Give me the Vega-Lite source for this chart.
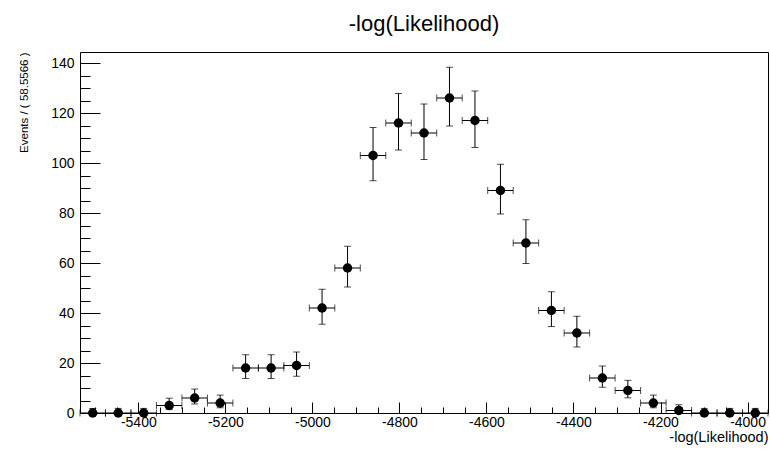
{
  "$schema": "https://vega.github.io/schema/vega-lite/v6.json",
  "width": 688,
  "height": 361,
  "autosize": "none",
  "padding": {"left": 80, "top": 52, "right": 2, "bottom": 37},
  "background": "white",
  "title": {
    "text": "-log(Likelihood)",
    "font": "Liberation Sans",
    "fontSize": 22,
    "fontWeight": "normal",
    "color": "black",
    "anchor": "middle",
    "baseline": "bottom",
    "offset": 17,
    "dy": 23
  },
  "config": {
    "view": {"stroke": "black", "strokeWidth": 1},
    "axis": {
      "labelFont": "Liberation Sans",
      "titleFont": "Liberation Sans",
      "labelFontSize": 14,
      "titleFontWeight": "normal",
      "labelColor": "black",
      "titleColor": "black",
      "tickColor": "black",
      "tickWidth": 1,
      "domain": false,
      "grid": false
    }
  },
  "data": {
    "values": [
      {"x": -5504.72, "lo": -5534.0, "hi": -5475.44, "n": 0, "elo": 0, "ehi": 1.84},
      {"x": -5446.17, "lo": -5475.44, "hi": -5416.89, "n": 0, "elo": 0, "ehi": 1.84},
      {"x": -5387.61, "lo": -5416.89, "hi": -5358.33, "n": 0, "elo": 0, "ehi": 1.84},
      {"x": -5329.05, "lo": -5358.33, "hi": -5299.77, "n": 3, "elo": 1.37, "ehi": 5.92},
      {"x": -5270.5, "lo": -5299.77, "hi": -5241.22, "n": 6, "elo": 3.62, "ehi": 9.58},
      {"x": -5211.94, "lo": -5241.22, "hi": -5182.66, "n": 4, "elo": 2.09, "ehi": 7.16},
      {"x": -5153.38, "lo": -5182.66, "hi": -5124.1, "n": 18, "elo": 13.8, "ehi": 23.3},
      {"x": -5094.83, "lo": -5124.1, "hi": -5065.55, "n": 18, "elo": 13.8, "ehi": 23.3},
      {"x": -5036.27, "lo": -5065.55, "hi": -5006.99, "n": 19, "elo": 14.7, "ehi": 24.4},
      {"x": -4977.71, "lo": -5006.99, "hi": -4948.43, "n": 42, "elo": 35.5, "ehi": 49.5},
      {"x": -4919.16, "lo": -4948.43, "hi": -4889.88, "n": 58, "elo": 50.4, "ehi": 66.7},
      {"x": -4860.6, "lo": -4889.88, "hi": -4831.32, "n": 103, "elo": 92.9, "ehi": 114.2},
      {"x": -4802.04, "lo": -4831.32, "hi": -4772.76, "n": 116, "elo": 105.2, "ehi": 127.8},
      {"x": -4743.49, "lo": -4772.76, "hi": -4714.21, "n": 112, "elo": 101.4, "ehi": 123.6},
      {"x": -4684.93, "lo": -4714.21, "hi": -4655.65, "n": 126, "elo": 114.8, "ehi": 138.3},
      {"x": -4626.37, "lo": -4655.65, "hi": -4597.09, "n": 117, "elo": 106.2, "ehi": 128.8},
      {"x": -4567.82, "lo": -4597.09, "hi": -4538.54, "n": 89, "elo": 79.6, "ehi": 99.5},
      {"x": -4509.26, "lo": -4538.54, "hi": -4479.98, "n": 68, "elo": 59.8, "ehi": 77.3},
      {"x": -4450.7, "lo": -4479.98, "hi": -4421.43, "n": 41, "elo": 34.6, "ehi": 48.5},
      {"x": -4392.15, "lo": -4421.43, "hi": -4362.87, "n": 32, "elo": 26.4, "ehi": 38.7},
      {"x": -4333.59, "lo": -4362.87, "hi": -4304.31, "n": 14, "elo": 10.3, "ehi": 18.8},
      {"x": -4275.03, "lo": -4304.31, "hi": -4245.76, "n": 9, "elo": 6.06, "ehi": 13.06},
      {"x": -4216.48, "lo": -4245.76, "hi": -4187.2, "n": 4, "elo": 2.09, "ehi": 7.16},
      {"x": -4157.92, "lo": -4187.2, "hi": -4128.64, "n": 1, "elo": 0.17, "ehi": 3.3},
      {"x": -4099.36, "lo": -4128.64, "hi": -4070.09, "n": 0, "elo": 0, "ehi": 1.84},
      {"x": -4040.81, "lo": -4070.09, "hi": -4011.53, "n": 0, "elo": 0, "ehi": 1.84},
      {"x": -3982.25, "lo": -4011.53, "hi": -3952.97, "n": 0, "elo": 0, "ehi": 1.84}
    ]
  },
  "resolve": {"axis": {"x": "independent", "y": "independent"}},
  "layer": [
    {
      "mark": {"type": "rule", "color": "black", "strokeWidth": 1},
      "encoding": {
        "x": {
          "field": "lo", "type": "quantitative",
          "scale": {"domain": [-5534.0, -3952.97], "nice": false, "zero": false},
          "axis": {
            "orient": "bottom",
            "values": [-5400, -5200, -5000, -4800, -4600, -4400, -4200, -4000],
            "labelExpr": "toString(datum.value)",
            "offset": -11, "tickSize": 11, "labelPadding": 2,
            "title": "-log(Likelihood)", "titleFontSize": 14.5, "titleAnchor": "end", "titlePadding": 1,
            "labelFlush": false, "labelOverlap": false
          }
        },
        "x2": {"field": "hi"},
        "y": {
          "field": "n", "type": "quantitative",
          "scale": {"domain": [0, 144.4], "nice": false, "zero": true},
          "axis": {
            "orient": "left",
            "values": [0, 20, 40, 60, 80, 100, 120, 140],
            "offset": -20, "tickSize": 20, "labelPadding": 6,
            "title": "Events / ( 58.5566 )", "titleFontSize": 11.5, "titleAnchor": "end", "titlePadding": 21,
            "labelFlush": false, "labelOverlap": false
          }
        }
      }
    },
    {
      "mark": {"type": "rule", "color": "black", "strokeWidth": 1},
      "encoding": {
        "x": {
          "field": "x", "type": "quantitative",
          "axis": {
            "orient": "bottom",
            "values": [-5500, -5450, -5350, -5300, -5250, -5150, -5100, -5050, -4950, -4900, -4850, -4750, -4700, -4650, -4550, -4500, -4450, -4350, -4300, -4250, -4150, -4100, -4050, -3950],
            "offset": -6, "tickSize": 6, "labels": false, "title": null
          }
        },
        "y": {
          "field": "elo", "type": "quantitative",
          "axis": {
            "orient": "left",
            "values": [5, 10, 15, 25, 30, 35, 45, 50, 55, 65, 70, 75, 85, 90, 95, 105, 110, 115, 125, 130, 135],
            "offset": -10, "tickSize": 10, "labels": false, "title": null
          }
        },
        "y2": {"field": "ehi"}
      }
    },
    {
      "mark": {"type": "tick", "orient": "horizontal", "color": "black", "size": 7, "thickness": 1},
      "encoding": {
        "x": {"field": "x", "type": "quantitative", "axis": null},
        "y": {"field": "elo", "type": "quantitative", "axis": null}
      }
    },
    {
      "mark": {"type": "tick", "orient": "horizontal", "color": "black", "size": 7, "thickness": 1},
      "encoding": {
        "x": {"field": "x", "type": "quantitative", "axis": null},
        "y": {"field": "ehi", "type": "quantitative", "axis": null}
      }
    },
    {
      "mark": {"type": "tick", "orient": "vertical", "color": "black", "size": 7, "thickness": 1},
      "encoding": {
        "x": {"field": "lo", "type": "quantitative", "axis": null},
        "y": {"field": "n", "type": "quantitative", "axis": null}
      }
    },
    {
      "mark": {"type": "tick", "orient": "vertical", "color": "black", "size": 7, "thickness": 1},
      "encoding": {
        "x": {"field": "hi", "type": "quantitative", "axis": null},
        "y": {"field": "n", "type": "quantitative", "axis": null}
      }
    },
    {
      "mark": {"type": "point", "shape": "circle", "filled": true, "color": "black", "opacity": 1, "size": 90},
      "encoding": {
        "x": {"field": "x", "type": "quantitative", "axis": null},
        "y": {"field": "n", "type": "quantitative", "axis": null}
      }
    }
  ]
}
